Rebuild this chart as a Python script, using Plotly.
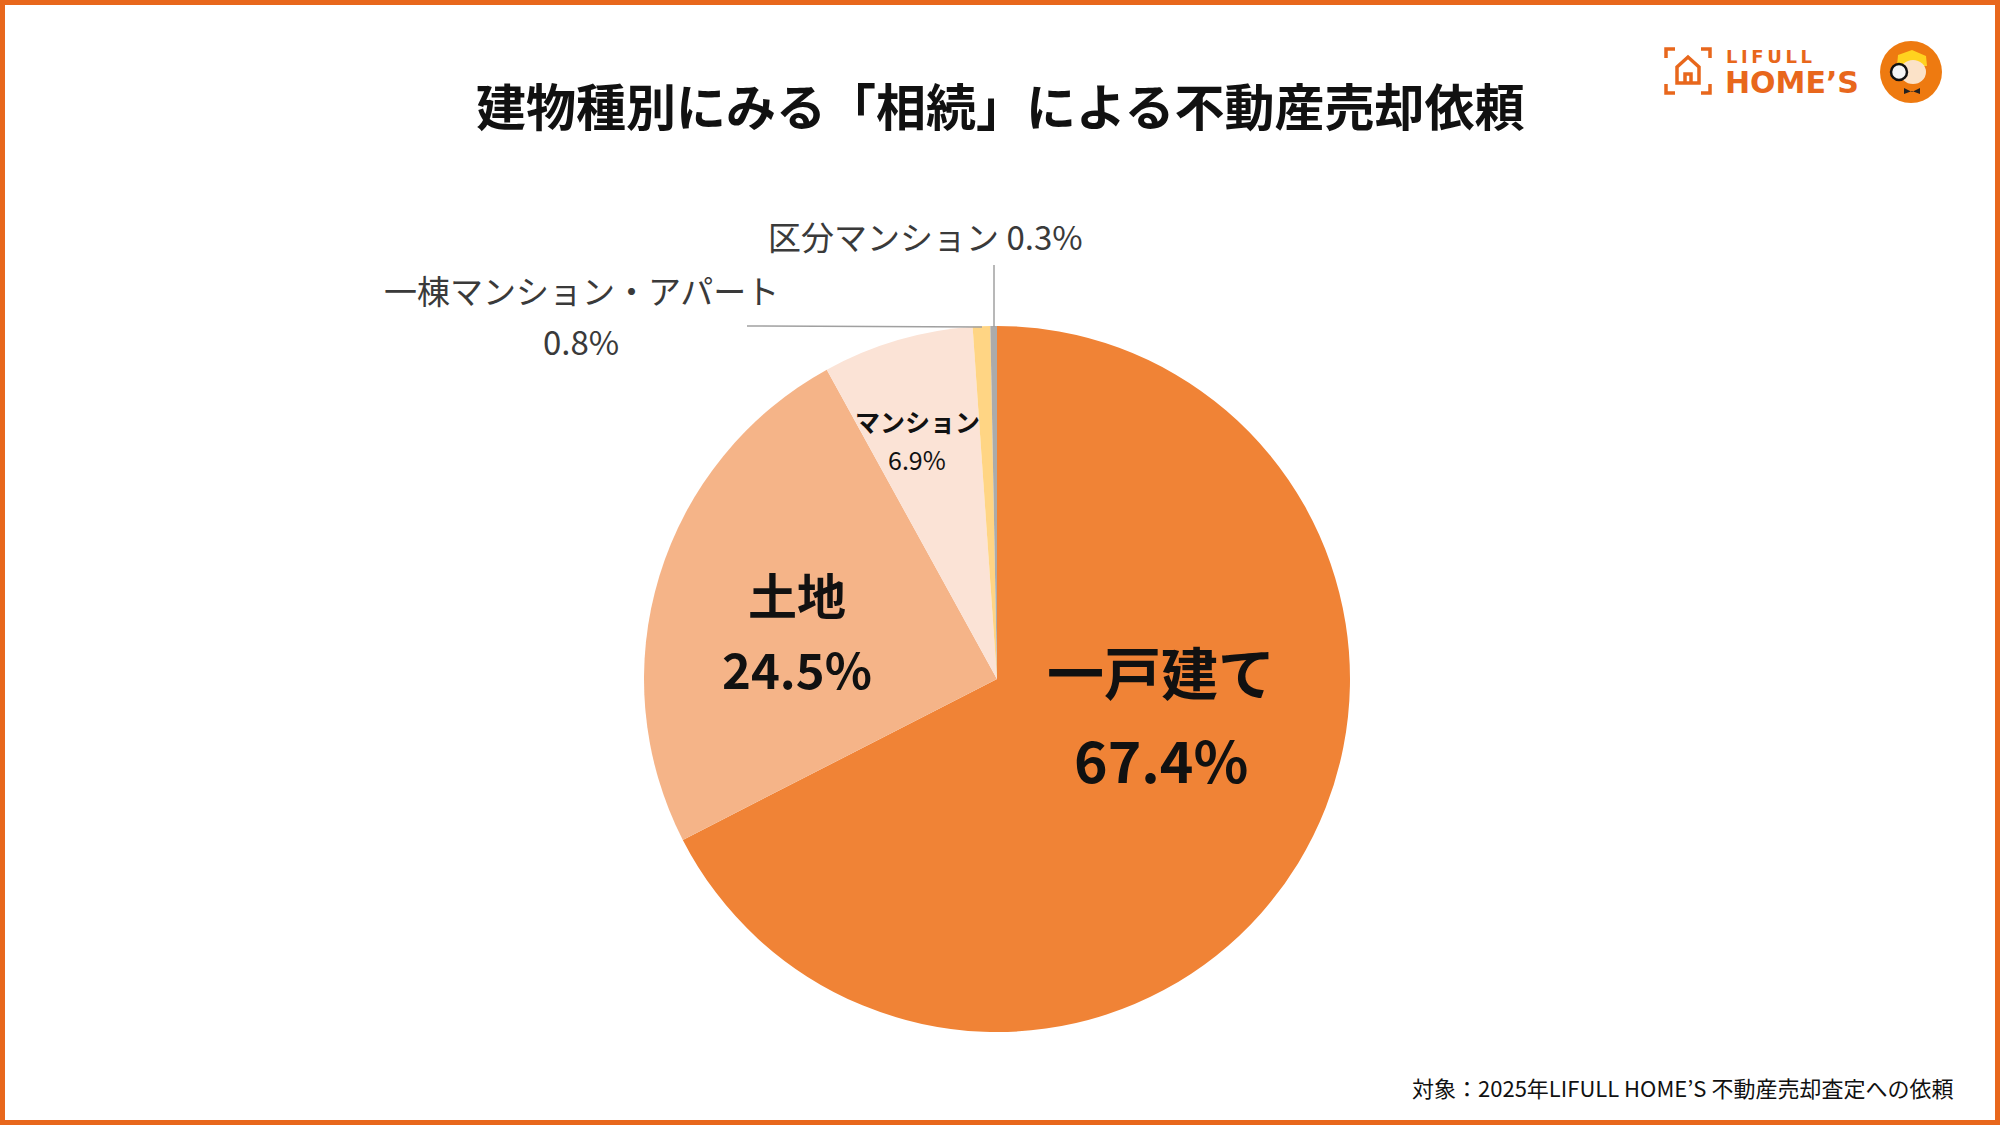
import plotly.graph_objects as go

# data
labels = ["一戸建て", "土地", "マンション", "一棟マンション・アパート", "区分マンション"]
values = [67.4, 24.5, 6.9, 0.8, 0.3]
colors = ["#F08336", "#F5B488", "#FBE3D6", "#FFD584", "#ABABAB"]

title = "建物種別にみる「相続」による不動産売却依頼"
note = "対象：2025年LIFULL HOME’S 不動産売却査定への依頼"

W, H = 2000, 1125
ORANGE = "#E8671C"
FONT = "Noto Sans CJK JP"


def px(x):
    return x / W


def py(y):
    return 1 - y / H


# pie centre and radius in pixels
cx, cy, r = 997, 679, 353

fig = go.Figure()
fig.add_trace(go.Pie(
    labels=labels,
    values=values,
    marker=dict(colors=colors, line=dict(width=0)),
    sort=False,
    direction="clockwise",
    rotation=0,
    textinfo="none",
    hoverinfo="label+percent",
    showlegend=False,
    domain=dict(x=[px(cx - r), px(cx + r)], y=[py(cy + r), py(cy - r)]),
))

ann = []
# inside labels: index, x, y of name, y of value, size, bold value
inside = [
    (0, 1161, 670, 758, 57, True),
    (1, 797, 593, 667, 49, True),
    (2, 917, 421, 459, 25, False),
]
for i, x, y1, y2, size, bold in inside:
    t1, t2 = f"<b>{labels[i]}</b>", f"{values[i]}%"
    if bold:
        t2 = f"<b>{t2}</b>"
    ann.append(dict(x=px(x), y=py(y1), text=t1, font=dict(size=size, color="#111111")))
    ann.append(dict(x=px(x), y=py(y2), text=t2, font=dict(size=size, color="#111111")))

# outside labels
ann.append(dict(x=px(581), y=py(290), text=labels[3], font=dict(size=33, color="#3A3A3A")))
ann.append(dict(x=px(581), y=py(341), text=f"{values[3]}%", font=dict(size=33, color="#3A3A3A")))
ann.append(dict(x=px(925), y=py(236), text=f"{labels[4]} {values[4]}%", font=dict(size=33, color="#3A3A3A")))

# title, note, logo text
ann.append(dict(x=px(1000), y=py(104), text=f"<b>{title}</b>", font=dict(size=50, color="#111111")))
ann.append(dict(x=px(1955), y=py(1087), text=note, xanchor="right", font=dict(size=22, color="#111111")))
ann.append(dict(x=px(1724), y=py(57), text="<b>L\u2009I\u2009F\u2009U\u2009L\u2009L</b>", xanchor="left",
                font=dict(size=18, color=ORANGE, family="DejaVu Sans")))
ann.append(dict(x=px(1723), y=py(82), text="<b>HOME’S</b>", xanchor="left",
                font=dict(size=30, color=ORANGE, family="DejaVu Sans")))

for a in ann:
    a.update(xref="paper", yref="paper", showarrow=False)
    a.setdefault("xanchor", "center")
    a["yanchor"] = "middle"
    a["font"].setdefault("family", FONT)

shapes = [
    # frame
    dict(type="rect", x0=px(2.5), x1=px(W - 2.5), y0=py(H - 2.5), y1=py(2.5),
         line=dict(color=ORANGE, width=5)),
    # leader lines
    dict(type="line", x0=px(994), x1=px(994), y0=py(265), y1=py(327),
         line=dict(color="#A0A0A0", width=1.5)),
    dict(type="line", x0=px(747), x1=px(982), y0=py(326), y1=py(327),
         line=dict(color="#A0A0A0", width=1.5)),
]

# logo icon: corner brackets + house
bx0, bx1, by0, by1, k = 1666, 1710, 49, 93, 9
brackets = [
    f"M{bx0},{by0 + k} L{bx0},{by0} L{bx0 + k},{by0}",
    f"M{bx1 - k},{by0} L{bx1},{by0} L{bx1},{by0 + k}",
    f"M{bx0},{by1 - k} L{bx0},{by1} L{bx0 + k},{by1}",
    f"M{bx1 - k},{by1} L{bx1},{by1} L{bx1},{by1 - k}",
    "M1677,67 L1688,57 L1699,67 L1699,83 L1677,83 Z",
    "M1685,83 L1685,74 L1691,74 L1691,83",
]


def to_paper_path(p):
    out = []
    for tok in p.split():
        if tok == "Z":
            out.append(tok)
            continue
        cmd = tok[0]
        x, y = tok[1:].split(",")
        out.append(f"{cmd}{px(float(x)):.5f},{py(float(y)):.5f}")
    return " ".join(out)


for p in brackets:
    shapes.append(dict(type="path", path=to_paper_path(p), line=dict(color=ORANGE, width=3.5)))

# mascot badge
shapes.append(dict(type="circle", x0=px(1880), x1=px(1942), y0=py(103), y1=py(41),
                   fillcolor="#EE7A10", line=dict(width=0)))
shapes.append(dict(type="path", path=to_paper_path("M1897,66 L1898,55 L1912,50 L1926,56 L1927,66 Z"),
                   fillcolor="#FFD21F", line=dict(width=0)))
shapes.append(dict(type="circle", x0=px(1900), x1=px(1926), y0=py(84), y1=py(60),
                   fillcolor="#FBE2C8", line=dict(width=0)))
shapes.append(dict(type="circle", x0=px(1891), x1=px(1907), y0=py(80), y1=py(64),
                   fillcolor="#F5F5F5", line=dict(color="#111111", width=2.5)))
shapes.append(dict(type="path", path=to_paper_path("M1904,88 L1912,92 L1920,88 L1920,94 L1912,91 L1904,94 Z"),
                   fillcolor="#222222", line=dict(width=0)))
for s in shapes:
    s.setdefault("xref", "paper")
    s.setdefault("yref", "paper")

fig.update_layout(
    width=W, height=H,
    margin=dict(l=0, r=0, t=0, b=0),
    paper_bgcolor="white",
    plot_bgcolor="white",
    annotations=ann,
    shapes=shapes,
)

fig.write_html("out.html", config={"displayModeBar": False},
               post_script="document.body.style.margin='0';document.body.style.overflow='hidden';")
